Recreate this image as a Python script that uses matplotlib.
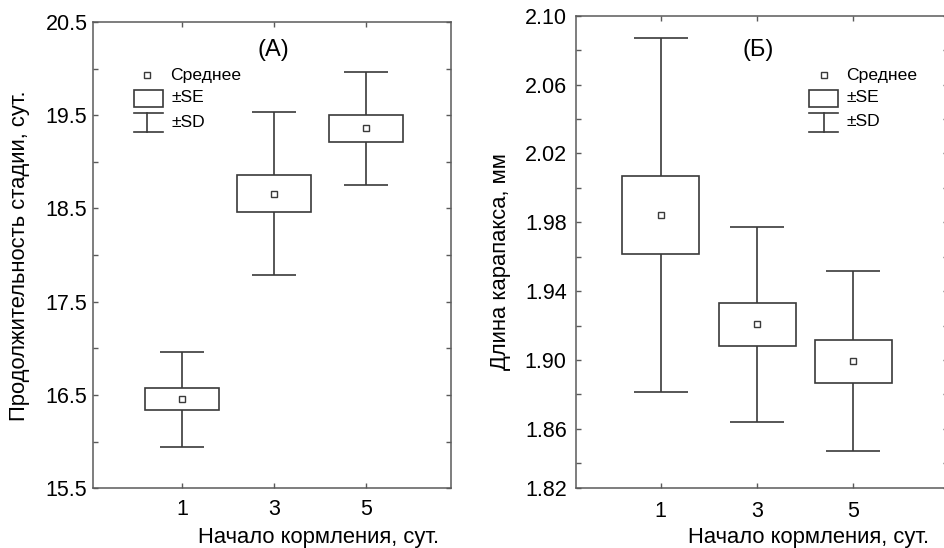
import matplotlib
matplotlib.use("Agg")
import matplotlib.pyplot as plt
from matplotlib.ticker import MultipleLocator, FixedLocator, FixedFormatter

plt.rcParams['font.family'] = ['Liberation Sans', 'DejaVu Sans']

# Feeding start, days
days = ['1', '3', '5']

# (A) stage duration, days
dur_mean = [16.455, 18.66, 19.36]
dur_se = [0.117, 0.197, 0.145]
dur_sd = [0.511, 0.876, 0.605]

# (Б) carapace length, mm
len_mean = [1.9843, 1.9206, 1.8992]
len_se = [0.0228, 0.0126, 0.0126]
len_sd = [0.1027, 0.0567, 0.0522]

dur_ticks = [15.5, 16.5, 17.5, 18.5, 19.5, 20.5]
len_ticks = [1.86, 1.90, 1.94, 1.98, 2.02, 2.06, 2.10]

LINE = '#3a3a3a'
SPINE = '#5a5a5a'
TICK_FS = 15.5
LABEL_FS = 15.8
LEG_FS = 12.6
TITLE_FS = 17

fig = plt.figure(figsize=(9.44, 5.48), dpi=100)
axA = fig.add_axes([0.0985, 0.1090, 0.3793, 0.8510])
axB = fig.add_axes([0.6099, 0.1104, 0.3940, 0.8610])


def draw_panel(ax, mean, se, sd, capsize):
    xs = list(range(len(days)))
    ax.errorbar(xs, mean, yerr=sd, fmt='none', ecolor=LINE, elinewidth=1.2,
                capsize=capsize, capthick=1.2, zorder=2)
    lo = [m - s for m, s in zip(mean, se)]
    hi = [2 * s for s in se]
    ax.bar(xs, hi, bottom=lo, width=0.8, facecolor='white', edgecolor=LINE,
           linewidth=1.2, zorder=3)
    ax.plot(xs, mean, linestyle='none', marker='s', markersize=5,
            markerfacecolor='white', markeredgecolor=LINE, markeredgewidth=1.0,
            zorder=4)
    ax.set_xticks(xs)
    ax.set_xticklabels(days)
    for sp in ax.spines.values():
        sp.set_color(SPINE)
        sp.set_linewidth(1.1)
    ax.tick_params(which='both', direction='in', length=3.5, width=1.0,
                   color=SPINE, top=True, right=True, labelsize=TICK_FS)
    ax.tick_params(axis='x', pad=8)


def draw_legend(ax, mx, tx, bx0, bx1, ys, tick_x):
    y_mean, y_box0, y_box1, y_se, y_sd0, y_sd1, y_sdt = ys
    tr = ax.transAxes
    ax.plot([mx], [y_mean], transform=tr, marker='s', markersize=5,
            markerfacecolor='white', markeredgecolor=LINE, markeredgewidth=1.0,
            linestyle='none', clip_on=False)
    ax.text(tx, y_mean, 'Среднее', transform=tr, va='center', ha='left',
            fontsize=LEG_FS)
    ax.add_patch(plt.Rectangle((bx0, y_box1), bx1 - bx0, y_box0 - y_box1,
                               transform=tr, facecolor='white', edgecolor=LINE,
                               linewidth=1.2, clip_on=False))
    ax.text(tick_x, y_se, '±SE', transform=tr, va='center', ha='left',
            fontsize=LEG_FS)
    ax.plot([bx0, bx1], [y_sd0, y_sd0], transform=tr, color=LINE, lw=1.2)
    ax.plot([bx0, bx1], [y_sd1, y_sd1], transform=tr, color=LINE, lw=1.2)
    ax.plot([mx, mx], [y_sd0, y_sd1], transform=tr, color=LINE, lw=1.2)
    ax.text(tick_x, y_sdt, '±SD', transform=tr, va='center', ha='left',
            fontsize=LEG_FS)


# Panel (A)
draw_panel(axA, dur_mean, dur_se, dur_sd, capsize=15.6)
axA.set_xlim(-0.967, 2.92)
axA.set_ylim(15.5, 20.5)
axA.yaxis.set_major_locator(FixedLocator(dur_ticks))
axA.yaxis.set_minor_locator(MultipleLocator(0.5))
axA.yaxis.set_major_formatter(FixedFormatter([f'{v:.1f}' for v in dur_ticks]))
axA.tick_params(axis='y', pad=4)
axA.set_ylabel('Продолжительность стадии, сут.', fontsize=LABEL_FS, va='center')
axA.yaxis.set_label_coords(-0.204, 0.498)
axA.set_xlabel('Начало кормления, сут.', fontsize=LABEL_FS, va='center')
axA.xaxis.set_label_coords(0.63, -0.105)
axA.text(0.503, 0.94, '(A)', transform=axA.transAxes, ha='center',
         va='center', fontsize=TITLE_FS)
draw_legend(axA, 0.151, 0.215, 0.1137, 0.1947,
            (0.886, 0.854, 0.817, 0.837, 0.804, 0.765, 0.785), 0.2198)

# Panel (Б)
draw_panel(axB, len_mean, len_se, len_sd, capsize=19.7)
axB.set_xlim(-0.883, 2.98)
len_floor = 1.8259
axB.set_ylim(len_floor, 2.10)
axB.yaxis.set_major_locator(FixedLocator([len_floor] + len_ticks))
axB.yaxis.set_minor_locator(FixedLocator([1.84 + 0.04 * i for i in range(7)]))
axB.yaxis.set_major_formatter(
    FixedFormatter(['1.82'] + [f'{v:.2f}' for v in len_ticks]))
axB.tick_params(axis='y', pad=6.5)
axB.tick_params(axis='x', pad=10)
axB.set_ylabel('Длина карапакса, мм', fontsize=LABEL_FS, va='center')
axB.yaxis.set_label_coords(-0.2035, 0.479)
axB.set_xlabel('Начало кормления, сут.', fontsize=LABEL_FS, va='center')
axB.xaxis.set_label_coords(0.627, -0.107)
axB.text(0.49, 0.927, '(Б)', transform=axB.transAxes, ha='center',
         va='center', fontsize=TITLE_FS)
draw_legend(axB, 0.6675, 0.7266, 0.628, 0.706,
            (0.874, 0.8425, 0.8065, 0.8256, 0.793, 0.754, 0.7747), 0.7285)

fig.savefig('out.png', dpi=100)
